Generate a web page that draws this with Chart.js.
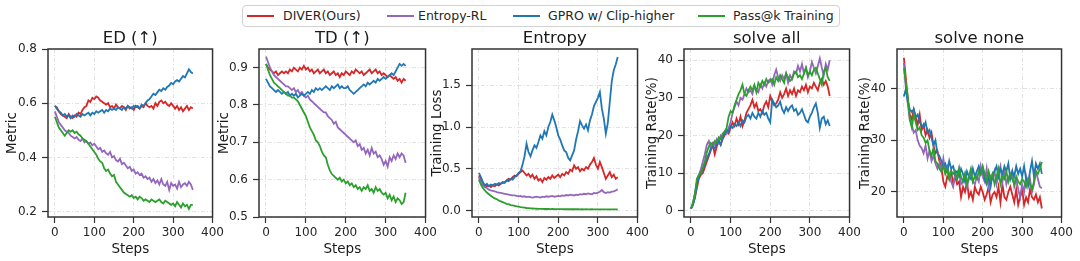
<!DOCTYPE html>
<html>
<head>
<meta charset="utf-8">
<script src="https://cdn.jsdelivr.net/npm/chart.js@4.4.1/dist/chart.umd.min.js"></script>
<style>
  body { margin: 0; background: #fff; width: 1080px; height: 261px; overflow: hidden; position: relative;
         font-family: "DejaVu Sans", sans-serif; }
  canvas { position: absolute; top: 0; }
  #legendBox { position: absolute; left: 242px; top: 5px; width: 598px; height: 22px; box-sizing: border-box;
               border: 1px solid #d2d2d2; border-radius: 4px; background: #fff; }
  .lg-line { position: absolute; top: 15px; width: 27px; height: 2px; }
  .lg-text { position: absolute; top: 5px; height: 22px; line-height: 22px; font-size: 12.5px; color: #262626; white-space: nowrap; }
</style>
</head>
<body>
<div id="legendBox"></div>
<div class="lg-line" style="left:247px;background:#d62728"></div><div class="lg-text" style="left:283px">DIVER(Ours)</div>
<div class="lg-line" style="left:387px;background:#9467bd"></div><div class="lg-text" style="left:418px">Entropy-RL</div>
<div class="lg-line" style="left:513px;background:#1f77b4"></div><div class="lg-text" style="left:548px">GPRO w/ Clip-higher</div>
<div class="lg-line" style="left:698px;background:#2ca02c"></div><div class="lg-text" style="left:733px">Pass@k Training</div>

<canvas id="c1" width="227" height="261" style="left:0px"></canvas>
<canvas id="c2" width="228" height="261" style="left:212px"></canvas>
<canvas id="c3" width="227" height="261" style="left:425px"></canvas>
<canvas id="c4" width="224" height="261" style="left:640px"></canvas>
<canvas id="c5" width="223" height="261" style="left:853px"></canvas>

<script>
'use strict';

// ── Data (sampled every 5 steps, 0..350) ──────────────────────────────────
const STEPS   = Array.from({ length: 71 }, (_, i) => i * 5);
const SERIES  = ['DIVER(Ours)', 'Entropy-RL', 'GPRO w/ Clip-higher', 'Pass@k Training'];
const COLORS  = ['#d62728', '#9467bd', '#1f77b4', '#2ca02c'];
const X_TICKS = [0, 100, 200, 300, 400];

// ED (↑)
const ED_DIVER = [
  0.59, 0.585, 0.57, 0.56, 0.555, 0.55, 0.545, 0.56, 0.55, 0.545,
  0.555, 0.55, 0.565, 0.56, 0.575, 0.585, 0.59, 0.61, 0.605, 0.62,
  0.615, 0.625, 0.62, 0.61, 0.605, 0.6, 0.595, 0.6, 0.585, 0.59,
  0.58, 0.595, 0.585, 0.58, 0.59, 0.585, 0.575, 0.59, 0.58, 0.585,
  0.575, 0.59, 0.585, 0.58, 0.59, 0.585, 0.6, 0.59, 0.585, 0.59,
  0.58, 0.6, 0.59, 0.605, 0.61, 0.6, 0.605, 0.595, 0.59, 0.6,
  0.59, 0.58, 0.59, 0.575, 0.585, 0.57, 0.58, 0.59, 0.575, 0.585,
  0.58];
const ED_ENTROPY = [
  0.57, 0.55, 0.53, 0.52, 0.51, 0.5, 0.495, 0.49, 0.48, 0.475,
  0.47, 0.475, 0.465, 0.46, 0.47, 0.455, 0.46, 0.45, 0.455, 0.445,
  0.45, 0.44, 0.43, 0.435, 0.42, 0.425, 0.415, 0.41, 0.42, 0.4,
  0.405, 0.39, 0.385, 0.395, 0.375, 0.38, 0.37, 0.36, 0.365, 0.35,
  0.355, 0.34, 0.345, 0.335, 0.34, 0.325, 0.33, 0.32, 0.325, 0.31,
  0.32, 0.305, 0.315, 0.3, 0.32, 0.3, 0.295, 0.31, 0.28, 0.305,
  0.295, 0.3, 0.285, 0.31, 0.29, 0.3, 0.305, 0.295, 0.31, 0.3,
  0.28];
const ED_GPRO = [
  0.59, 0.58, 0.57, 0.565, 0.555, 0.56, 0.55, 0.555, 0.545, 0.555,
  0.55, 0.56, 0.555, 0.55, 0.56, 0.555, 0.56, 0.565, 0.555, 0.565,
  0.56, 0.57, 0.565, 0.57, 0.575, 0.565, 0.575, 0.57, 0.58, 0.575,
  0.58, 0.575, 0.585, 0.58, 0.575, 0.585, 0.58, 0.59, 0.585, 0.58,
  0.59, 0.585, 0.59, 0.58, 0.595, 0.59, 0.6, 0.61, 0.615, 0.625,
  0.635, 0.63, 0.64, 0.65, 0.645, 0.655, 0.65, 0.66, 0.665, 0.675,
  0.67, 0.68, 0.685, 0.68, 0.69, 0.7, 0.695, 0.71, 0.725, 0.715,
  0.71];
const ED_PASSK = [
  0.55, 0.53, 0.51, 0.5, 0.49, 0.48, 0.49, 0.5, 0.495, 0.5,
  0.49, 0.495, 0.485, 0.48, 0.47, 0.465, 0.46, 0.45, 0.44, 0.43,
  0.42, 0.41, 0.395, 0.385, 0.38, 0.36, 0.35, 0.355, 0.34, 0.33,
  0.335, 0.31, 0.3, 0.29, 0.28, 0.27, 0.265, 0.26, 0.255, 0.26,
  0.25, 0.255, 0.245, 0.255, 0.25, 0.24, 0.245, 0.24, 0.235, 0.245,
  0.24, 0.235, 0.24, 0.245, 0.235, 0.23, 0.24, 0.235, 0.23, 0.225,
  0.23, 0.22, 0.235, 0.225, 0.215, 0.23, 0.22, 0.225, 0.21, 0.225,
  0.225];

// TD (↑)
const TD_DIVER = [
  0.91, 0.9, 0.895, 0.89, 0.885, 0.89, 0.88, 0.885, 0.89, 0.885,
  0.89, 0.885, 0.895, 0.89, 0.9, 0.895, 0.89, 0.9, 0.895, 0.905,
  0.895, 0.9, 0.89, 0.895, 0.885, 0.89, 0.895, 0.885, 0.89, 0.895,
  0.885, 0.89, 0.88, 0.885, 0.89, 0.88, 0.885, 0.875, 0.885, 0.88,
  0.89, 0.885, 0.88, 0.89, 0.885, 0.895, 0.89, 0.885, 0.89, 0.88,
  0.885, 0.89, 0.895, 0.885, 0.89, 0.895, 0.885, 0.89, 0.88, 0.885,
  0.88, 0.875, 0.88, 0.875, 0.87, 0.875, 0.865, 0.87, 0.86, 0.87,
  0.865];
const TD_ENTROPY = [
  0.93, 0.915, 0.9, 0.89, 0.88, 0.875, 0.87, 0.865, 0.86, 0.855,
  0.85, 0.85, 0.845, 0.84, 0.845, 0.835, 0.84, 0.83, 0.835, 0.825,
  0.82, 0.825, 0.815, 0.81, 0.805, 0.8, 0.795, 0.79, 0.785, 0.78,
  0.78, 0.77, 0.765, 0.76, 0.75, 0.755, 0.74, 0.735, 0.73, 0.725,
  0.72, 0.715, 0.71, 0.705, 0.7, 0.705, 0.69, 0.695, 0.68, 0.685,
  0.67, 0.68, 0.665, 0.685, 0.67, 0.675, 0.66, 0.665, 0.655, 0.64,
  0.65, 0.635, 0.66, 0.65, 0.665, 0.655, 0.67, 0.66, 0.67, 0.665,
  0.645];
const TD_GPRO = [
  0.87, 0.86, 0.85, 0.845, 0.84, 0.835, 0.84, 0.835, 0.83, 0.835,
  0.83, 0.835, 0.825, 0.83, 0.825, 0.83, 0.82, 0.825, 0.83, 0.825,
  0.83, 0.835, 0.83, 0.84, 0.835, 0.845, 0.84, 0.845, 0.84, 0.845,
  0.85, 0.845, 0.84, 0.85, 0.845, 0.85, 0.855, 0.845, 0.85, 0.845,
  0.845, 0.85, 0.84, 0.835, 0.83, 0.835, 0.84, 0.845, 0.85, 0.855,
  0.85, 0.86, 0.855, 0.86, 0.865, 0.86, 0.87, 0.865, 0.87, 0.875,
  0.87, 0.875, 0.88, 0.885, 0.88, 0.89, 0.9, 0.91, 0.905, 0.91,
  0.905];
const TD_PASSK = [
  0.91, 0.895, 0.88, 0.87, 0.86, 0.855, 0.85, 0.845, 0.84, 0.835,
  0.83, 0.825, 0.825, 0.82, 0.82, 0.815, 0.81, 0.8, 0.79, 0.78,
  0.77, 0.755, 0.74, 0.73, 0.72, 0.705, 0.7, 0.69, 0.675, 0.665,
  0.66, 0.64, 0.625, 0.615, 0.61, 0.605, 0.6, 0.605, 0.595, 0.6,
  0.59, 0.595, 0.585, 0.59, 0.58, 0.585, 0.575, 0.58, 0.57, 0.58,
  0.575, 0.585, 0.57, 0.575, 0.565, 0.58, 0.57, 0.575, 0.565, 0.56,
  0.565, 0.55, 0.56, 0.545, 0.555, 0.54, 0.55, 0.545, 0.535, 0.54,
  0.565];

// Entropy
const ENT_DIVER = [
  0.42, 0.38, 0.33, 0.3, 0.29, 0.3, 0.28, 0.3, 0.29, 0.31,
  0.3, 0.32, 0.33, 0.34, 0.36, 0.38, 0.37, 0.4, 0.42, 0.41,
  0.44, 0.46, 0.48, 0.45, 0.42, 0.44, 0.4, 0.43, 0.38, 0.41,
  0.36, 0.38, 0.34, 0.39, 0.37, 0.4, 0.38, 0.42, 0.39, 0.41,
  0.43, 0.4, 0.44, 0.42, 0.46, 0.44, 0.49, 0.47, 0.54, 0.5,
  0.52, 0.47, 0.5, 0.48, 0.52, 0.5, 0.55, 0.58, 0.63, 0.55,
  0.5, 0.58, 0.52, 0.45, 0.38, 0.42, 0.46, 0.4, 0.43, 0.38,
  0.4];
const ENT_ENTROPY = [
  0.4, 0.33, 0.3, 0.28, 0.27, 0.25, 0.24, 0.235, 0.23, 0.22,
  0.215, 0.21, 0.205, 0.2, 0.195, 0.19, 0.185, 0.18, 0.18, 0.175,
  0.17, 0.175, 0.165, 0.17, 0.16, 0.165, 0.16, 0.155, 0.16, 0.165,
  0.16, 0.155, 0.165, 0.16, 0.17, 0.165, 0.17, 0.175, 0.165, 0.17,
  0.175, 0.17, 0.18, 0.175, 0.185, 0.18, 0.19, 0.185, 0.18, 0.19,
  0.185, 0.195, 0.19, 0.2, 0.195, 0.205, 0.2, 0.195, 0.21, 0.205,
  0.215, 0.225, 0.245, 0.22, 0.21, 0.22, 0.215, 0.225, 0.23, 0.24,
  0.255];
const ENT_GPRO = [
  0.45, 0.4, 0.34, 0.3, 0.32, 0.29, 0.31, 0.3, 0.32, 0.31,
  0.33, 0.32, 0.34, 0.33, 0.36, 0.35, 0.38, 0.37, 0.4, 0.42,
  0.45, 0.47, 0.55, 0.65, 0.8, 0.7, 0.65, 0.72, 0.78, 0.75,
  0.82, 0.9, 0.86, 0.95, 0.9, 1.0, 1.06, 1.15, 1.08, 1.0,
  0.9, 0.85, 0.78, 0.72, 0.7, 0.63, 0.6, 0.66, 0.72, 0.85,
  0.95, 1.07, 1.02, 0.98, 1.03, 0.96, 1.08, 1.15, 1.25, 1.3,
  1.35, 1.42, 1.22, 1.1, 0.92, 1.05, 1.3, 1.55, 1.68, 1.75,
  1.84];
const ENT_PASSK = [
  0.37, 0.31, 0.27, 0.24, 0.215, 0.195, 0.175, 0.16, 0.145, 0.135,
  0.12, 0.11, 0.1, 0.09, 0.08, 0.075, 0.065, 0.06, 0.055, 0.05,
  0.045, 0.04, 0.037, 0.034, 0.03, 0.028, 0.026, 0.024, 0.022, 0.021,
  0.02, 0.019, 0.02, 0.018, 0.019, 0.018, 0.017, 0.018, 0.017, 0.017,
  0.016, 0.017, 0.016, 0.016, 0.015, 0.016, 0.015, 0.015, 0.016, 0.015,
  0.015, 0.014, 0.015, 0.014, 0.015, 0.014, 0.014, 0.015, 0.014, 0.014,
  0.014, 0.013, 0.014, 0.013, 0.014, 0.013, 0.013, 0.014, 0.013, 0.013,
  0.013];

// solve all
const ALL_DIVER = [
  0.5, 1.5, 3.5, 6, 8.5, 9.5, 10, 11.5, 13, 14.5,
  16, 17.5, 15, 17, 18.5, 17.5, 19, 20, 21, 20.5,
  22, 23.5, 22.5, 24.5, 23, 25, 22.5, 24, 26, 27,
  28, 29.5, 27.5, 28.5, 26.5, 27, 26, 28, 29, 27.5,
  30.5, 29, 28, 28.5, 29.5, 31.5, 30, 31, 32.5, 30.5,
  32, 31, 32.5, 30.5, 32, 31.5, 33, 32, 33.5, 31.5,
  33, 32.5, 34, 33, 32, 34, 35, 33.5, 34.5, 33,
  30.5];
const ALL_ENTROPY = [
  0.5, 2, 4.5, 7.5, 9.5, 11, 13, 15, 17.5, 18.5,
  16.5, 18, 17.5, 19, 18, 20, 19.5, 21, 20.5, 22,
  23.5, 26, 27.5, 29, 28, 30, 29.5, 31, 32.5, 31.5,
  32, 31, 33, 32, 31.5, 33.5, 32.5, 34, 33, 34.5,
  35, 33.5, 36, 37.5, 35.5, 34.5, 36, 35, 36.5, 34,
  36, 35, 37, 36.5, 38.5, 37, 39, 36.5, 38, 35.5,
  37, 39.5, 38, 36.5, 38.5, 40.5, 38, 36, 39, 37.5,
  40];
const ALL_GPRO = [
  0.5, 1.5, 3.5, 7, 9, 10, 11, 12.5, 14, 15,
  16.5, 17, 16.5, 18, 18.5, 17.5, 19.5, 20.5, 21.5, 21,
  22.5, 22, 23, 22.5, 23.5, 22.5, 24, 23.5, 25, 25.5,
  24.5, 26, 25, 24.5, 26, 25, 26.5, 25.5, 26, 24.5,
  23.5, 29.5, 28.5, 27.5, 28, 29, 27, 26, 27.5, 26.5,
  27.5, 28, 26.5, 27, 25.5, 26, 27, 25.5, 24, 23.5,
  25, 26, 27.5, 28.5, 26, 22, 24.5, 25, 23, 24,
  22.5];
const ALL_PASSK = [
  0.5, 2, 4.5, 8.5, 9.5, 10, 11.5, 13, 15.5, 17,
  18, 17.5, 18.5, 18, 19.5, 19, 20.5, 21, 22, 25,
  26.5, 26, 28, 29.5, 31, 32, 33.5, 31, 30.5, 32,
  33, 32, 33.5, 31.5, 34, 33, 34.5, 33.5, 35, 34,
  34.5, 35, 33.5, 35.5, 34.5, 36, 35, 34, 36.5, 35.5,
  34.5, 35, 36.5, 37, 35.5, 36, 35, 36.5, 38, 36,
  37, 36, 37.5, 38, 36.5, 35, 33.5, 37, 38, 35.5,
  34.5];

// solve none
const NONE_DIVER = [
  46, 42, 38, 35, 34, 36, 34.5, 33, 35, 32,
  33, 31, 32, 30.5, 31.5, 29, 27.5, 28, 26, 25,
  22, 21, 23, 22.5, 24, 21.5, 23, 21.5, 22, 19,
  21, 20, 22, 19, 20, 18.5, 21, 20, 19.5, 21,
  20, 18.5, 19.5, 21, 18, 19.5, 20, 19, 21, 18,
  21.5, 19, 18.5, 20, 21, 19.5, 18, 20.5, 17.5, 19,
  20.5, 17.5, 19, 18, 20.5, 19, 18.5, 19.5, 18, 19,
  16.8];
const NONE_ENTROPY = [
  45, 40, 37, 34, 33, 31.5, 32, 30, 29, 28.5,
  27.5, 29, 26.5, 28, 26, 27, 25.5, 24.5, 25.5, 24,
  26.5, 24, 25, 23.5, 22, 21, 23.5, 22.5, 24.5, 21.5,
  22, 23.5, 21, 22.5, 24, 22, 21.5, 23, 22, 25,
  23, 22, 24.5, 21, 23, 22.5, 24, 21.5, 23.5, 25,
  22, 24, 21.5, 23, 22.5, 24, 21, 22.5, 20.5, 19,
  21.5, 20, 23, 21, 22.5, 20, 21.5, 24, 22.5, 21,
  20.7];
const NONE_GPRO = [
  38.5, 40, 37.5, 36, 35.5, 36, 34.5, 35, 33.5, 33,
  32.5, 33.5, 31.5, 32, 30.5, 29, 30, 27.5, 27, 26,
  25, 25.5, 24, 26, 24.5, 25, 23.5, 24, 23, 24.5,
  23.5, 22, 24, 23, 22.5, 24.5, 23, 24, 25, 23.5,
  24.5, 22.5, 21.5, 23, 21, 23.5, 24, 25, 23, 24.5,
  23.5, 25, 24, 25.5, 22.5, 24, 23, 25, 23.5, 24.5,
  23, 25, 22.5, 21.5, 24, 26, 23, 25.5, 24.5, 25.5,
  23.5];
const NONE_PASSK = [
  44, 41, 38.5, 34, 32.5, 35, 33.5, 32, 32.5, 31,
  30.5, 29.5, 30, 28, 27, 28.5, 26, 25.5, 24.5, 24,
  25, 23.5, 24.5, 22.5, 24, 23.5, 24, 22.5, 24.5, 23,
  22, 23.5, 21.5, 23, 24.5, 22, 23, 22.5, 24, 23.5,
  25, 23.5, 22, 24, 22.5, 23.5, 21.5, 23, 24.5, 21.5,
  23, 22.5, 24, 22, 23.5, 22.5, 21.5, 23, 22, 21.5,
  22.5, 22, 21, 22.5, 21.5, 20.5, 22, 24, 23.5, 24.5,
  25.8];

// ── Panel layout ──────────────────────────────────────────────────────────
// left = canvas left edge, frameL/frameR = axes box edges (page px)
const FONT = '"DejaVu Sans", sans-serif';
const FRAME_BOTTOM = 217, CANVAS_H = 261;

const PANELS = [
  { id: 'c1', left: 0,   frameL: 48,  frameR: 213,  title: 'ED (↑)',     ylabel: 'Metric',
    ymin: 0.18, ymax: 0.80, yticks: [0.2, 0.4, 0.6, 0.8], dec: 1,
    series: [ED_DIVER, ED_ENTROPY, ED_GPRO, ED_PASSK] },
  { id: 'c2', left: 212, frameL: 259, frameR: 426,  title: 'TD (↑)',     ylabel: 'Metric',
    ymin: 0.5, ymax: 0.95, yticks: [0.5, 0.6, 0.7, 0.8, 0.9], dec: 1,
    series: [TD_DIVER, TD_ENTROPY, TD_GPRO, TD_PASSK] },
  { id: 'c3', left: 425, frameL: 472, frameR: 638,  title: 'Entropy',    ylabel: 'Training Loss',
    ymin: -0.078, ymax: 1.935, yticks: [0, 0.5, 1.0, 1.5], dec: 1,
    series: [ENT_DIVER, ENT_ENTROPY, ENT_GPRO, ENT_PASSK] },
  { id: 'c4', left: 640, frameL: 684, frameR: 850,  title: 'solve all',  ylabel: 'Training Rate(%)',
    ymin: -1.7, ymax: 43, yticks: [0, 10, 20, 30, 40], dec: 0,
    series: [ALL_DIVER, ALL_ENTROPY, ALL_GPRO, ALL_PASSK] },
  { id: 'c5', left: 853, frameL: 897, frameR: 1062, title: 'solve none', ylabel: 'Training Rate(%)',
    ymin: 15.15, ymax: 47.7, yticks: [20, 30, 40], dec: 0,
    series: [NONE_DIVER, NONE_ENTROPY, NONE_GPRO, NONE_PASSK] },
];

// Full box round the axes, like matplotlib spines
const framePlugin = {
  id: 'frame',
  afterDatasetsDraw(chart) {
    const { ctx, chartArea: a } = chart;
    ctx.save();
    ctx.strokeStyle = '#333333';
    ctx.lineWidth = 1.5;
    ctx.strokeRect(a.left, a.top, a.right - a.left, a.bottom - a.top);
    ctx.restore();
  },
};

const GRID = { color: '#e2e2e2', lineWidth: 1, tickLength: 6, tickColor: '#333333', tickWidth: 1.2, tickBorderDash: [] };
const BORDER = { display: false, dash: [4, 2, 1, 2] };

function buildPanel(p) {
  const canvas = document.getElementById(p.id);
  const W = canvas.width;
  return new Chart(canvas, {
    type: 'line',
    data: {
      datasets: p.series.map((vals, k) => ({
        label: SERIES[k],
        data: STEPS.map((s, i) => ({ x: s, y: vals[i] })),
        borderColor: COLORS[k],
        borderWidth: 1.8,
        pointRadius: 0,
        tension: 0,
        fill: false,
        order: 3 - k,
      })),
    },
    options: {
      responsive: false,
      animation: false,
      devicePixelRatio: 1,
      layout: { padding: { left: 0, top: 29.2, right: W - (p.frameR - p.left), bottom: 0 } },
      plugins: {
        legend: { display: false },
        tooltip: { enabled: false },
        title: {
          display: true, text: p.title, fullSize: false, color: '#1a1a1a',
          font: { family: FONT, size: 16.5, weight: 'normal' }, padding: { top: 0, bottom: 0 },
        },
      },
      scales: {
        x: {
          type: 'linear', min: -17.5, max: 400,
          afterBuildTicks: s => { s.ticks = X_TICKS.map(v => ({ value: v })); },
          afterFit: s => { s.height = CANVAS_H - FRAME_BOTTOM; },
          ticks: { color: '#262626', font: { family: FONT, size: 12 }, padding: 3, maxRotation: 0 },
          grid: GRID,
          border: BORDER,
          title: { display: true, text: 'Steps', color: '#1a1a1a', font: { family: FONT, size: 13.5 }, padding: { top: 0, bottom: 3 } },
        },
        y: {
          type: 'linear', min: p.ymin, max: p.ymax,
          afterBuildTicks: s => { s.ticks = p.yticks.map(v => ({ value: v })); },
          afterFit: s => { s.width = p.frameL - p.left; },
          ticks: { color: '#262626', font: { family: FONT, size: 12 }, padding: 5, callback: v => Number(v).toFixed(p.dec) },
          grid: GRID,
          border: BORDER,
          title: { display: true, text: p.ylabel, color: '#1a1a1a', font: { family: FONT, size: 13.5 }, padding: { top: 4, bottom: 0 } },
        },
      },
    },
    plugins: [framePlugin],
  });
}

PANELS.forEach(buildPanel);
</script>
</body>
</html>
